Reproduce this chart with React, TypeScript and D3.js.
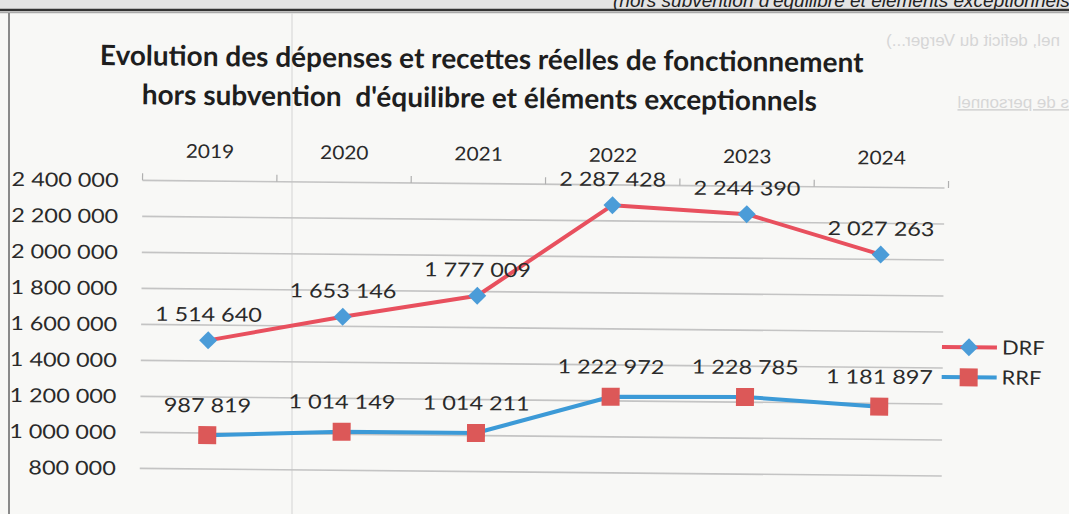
import React from "react";
import * as d3 from "d3";

const years = ["2019", "2020", "2021", "2022", "2023", "2024"];
const drf = [1514640, 1653146, 1777009, 2287428, 2244390, 2027263];
const rrf = [987819, 1014149, 1014211, 1222972, 1228785, 1181897];
const yTicks = [800000, 1000000, 1200000, 1400000, 1600000, 1800000, 2000000, 2200000, 2400000];
const seriesNames = ["DRF", "RRF"];
const titleLines = [
  "Evolution des dépenses et recettes réelles de fonctionnement",
  "hors subvention  d'équilibre et éléments exceptionnels",
];

const fmtSp = (v: number) => d3.format(",")(v).replace(/,/g, " ");

export default function App() {
  const W = 1069, H = 514;
  const x = d3.scaleBand().domain(years).range([141, 947]);
  const y = d3.scaleLinear().domain([800000, 2400000]).range([469, 181]);
  const cx = (d: string) => (x(d) as number) + x.bandwidth() / 2;
  const line = d3.line<number>().x((_, i) => cx(years[i])).y((v) => y(v));

  const drfColor = "#e8505e";
  const drfMarker = "#4b9cd8";
  const rrfColor = "#3c9ad7";
  const rrfMarker = "#dc5858";
  const font = "Lato, 'Open Sans', sans-serif";
  const textCol = "#2a2a2a";
  const sx = 1.2;

  const diamond = (px: number, py: number, r: number) =>
    `M${px},${py - r}L${px + r},${py}L${px},${py + r}L${px - r},${py}Z`;
  const tr = (px: number, py: number, s = sx) => `translate(${px},${py}) scale(${s},1)`;

  return (
    <svg width={W} height={H} style={{ position: "absolute", left: 0, top: 0 }} xmlns="http://www.w3.org/2000/svg">
      <rect x={0} y={0} width={W} height={H} fill="#f8f8f6" />
      {/* scanned header band */}
      <rect x={0} y={0} width={W} height={10} fill="#e4e4e4" />
      <text x={613} y={7} fontFamily="'Liberation Sans', Arial, sans-serif" fontStyle="italic" fontSize={19} fill="#222">
        (hors subvention d'équilibre et éléments exceptionnels)
      </text>
      <line x1={0} x2={W} y1={10} y2={10} stroke="#333" strokeWidth={2.5} />
      <line x1={0} x2={W} y1={12.5} y2={12.5} stroke="#aaa" strokeWidth={1.5} />
      {/* faint show-through */}
      <g fill="#d6d6d6" fontFamily="'Liberation Sans', Arial, sans-serif" fontSize={17}>
        <text transform="translate(1060,46) scale(-1,1)">nel, deficit du Verger...)</text>
        <text transform="translate(1069,108) scale(-1,1)" textDecoration="underline">s de personnel</text>
      </g>
      {/* frame */}
      <line x1={9} x2={9} y1={13} y2={H} stroke="#8a8a8a" strokeWidth={2} />
      <line x1={292} x2={292} y1={13} y2={H} stroke="#dadada" strokeWidth={1.2} />

      <g transform="rotate(0.55, 208, 340)">
        {/* title */}
        <g fontFamily={font} fontWeight={700} fontSize={28} fill="#1e1e1e" textAnchor="middle">
          <text x={479} y={66}>{titleLines[0]}</text>
          <text x={477} y={105} style={{ whiteSpace: "pre" }}>{titleLines[1]}</text>
        </g>

        {/* gridlines */}
        {yTicks.map((t) => (
          <line key={t} x1={141} x2={943} y1={y(t)} y2={y(t)} stroke="#c4c4c4" strokeWidth={1.6} />
        ))}
        {/* category boundary ticks on top axis */}
        {years.map((yr) => (
          <line key={yr} x1={x(yr) as number} x2={x(yr) as number} y1={y(2400000) - 7} y2={y(2400000)} stroke="#b0b0b0" strokeWidth={1.2} />
        ))}
        <line x1={947} x2={947} y1={y(2400000) - 7} y2={y(2400000)} stroke="#b0b0b0" strokeWidth={1.2} />

        {/* y labels */}
        <g fontFamily={font} fontSize={19.5} fill={textCol} textAnchor="end">
          {yTicks.map((t) => (
            <text key={t} transform={tr(117, y(t) + 7)}>{fmtSp(t)}</text>
          ))}
        </g>
        {/* year labels */}
        <g fontFamily={font} fontSize={19} fill={textCol} textAnchor="middle">
          {years.map((yr) => (
            <text key={yr} transform={tr(cx(yr), 158, 1.1)}>{yr}</text>
          ))}
        </g>

        {/* lines */}
        <path d={line(drf) || ""} fill="none" stroke={drfColor} strokeWidth={4} strokeLinejoin="round" />
        <path d={line(rrf) || ""} fill="none" stroke={rrfColor} strokeWidth={4} strokeLinejoin="round" />

        {/* markers */}
        {drf.map((v, i) => (
          <path key={"d" + i} d={diamond(cx(years[i]), y(v), 9)} fill={drfMarker} />
        ))}
        {rrf.map((v, i) => (
          <rect key={"r" + i} x={cx(years[i]) - 9} y={y(v) - 9} width={18} height={18} fill={rrfMarker} />
        ))}

        {/* data labels */}
        <g fontFamily={font} fontSize={19.5} fill={textCol} textAnchor="middle">
          {drf.map((v, i) => (
            <text key={"dl" + i} transform={tr(cx(years[i]), y(v) - 19)}>{fmtSp(v)}</text>
          ))}
          {rrf.map((v, i) => (
            <text key={"rl" + i} transform={tr(cx(years[i]), y(v) - 23)}>{fmtSp(v)}</text>
          ))}
        </g>

        {/* legend */}
        <g fontFamily={font} fontSize={19.5} fill={textCol}>
          <line x1={942} x2={997} y1={340} y2={340} stroke={drfColor} strokeWidth={4} />
          <path d={diamond(969, 340, 9)} fill={drfMarker} />
          <text transform={tr(1002, 347, 1.12)}>{seriesNames[0]}</text>
          <line x1={942} x2={997} y1={370} y2={370} stroke={rrfColor} strokeWidth={4} />
          <rect x={960} y={361} width={18} height={18} fill={rrfMarker} />
          <text transform={tr(1002, 377, 1.12)}>{seriesNames[1]}</text>
        </g>
      </g>
    </svg>
  );
}
